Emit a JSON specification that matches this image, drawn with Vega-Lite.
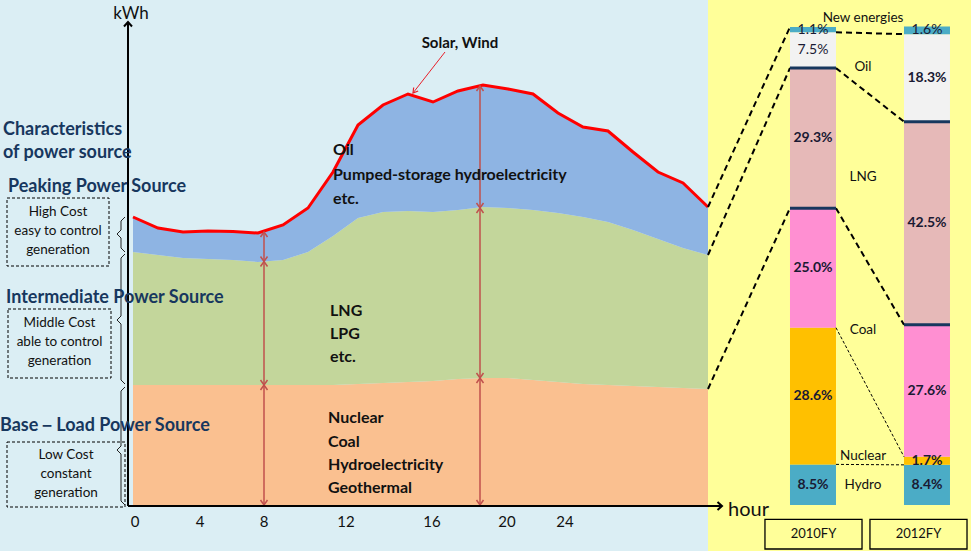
{
  "$schema": "https://vega.github.io/schema/vega-lite/v6.json",
  "background": "#FFFF99",
  "padding": 0,
  "spacing": 0,
  "bounds": "flush",
  "config": {
    "view": {"stroke": null},
    "axis": {"disable": true},
    "legend": {"disable": true},
    "font": "Lato",
    "text": {"font": "Lato"}
  },
  "datasets": {
    "load": [
      {"hour": 0, "peak": 57.8, "mid": 50.8, "base": 24.2},
      {"hour": 1, "peak": 55.6, "mid": 50.2, "base": 24.2},
      {"hour": 2, "peak": 54.8, "mid": 49.6, "base": 24.2},
      {"hour": 3, "peak": 55.0, "mid": 49.4, "base": 24.2},
      {"hour": 4, "peak": 54.9, "mid": 49.2, "base": 24.2},
      {"hour": 5, "peak": 54.6, "mid": 48.8, "base": 24.2},
      {"hour": 6, "peak": 56.2, "mid": 49.2, "base": 24.2},
      {"hour": 7, "peak": 59.6, "mid": 50.8, "base": 24.2},
      {"hour": 8, "peak": 66.8, "mid": 54.0, "base": 24.2},
      {"hour": 9, "peak": 76.2, "mid": 57.6, "base": 24.4},
      {"hour": 10, "peak": 80.2, "mid": 58.8, "base": 24.6},
      {"hour": 11, "peak": 82.4, "mid": 59.0, "base": 24.8},
      {"hour": 12, "peak": 80.8, "mid": 58.8, "base": 25.0},
      {"hour": 13, "peak": 83.0, "mid": 59.2, "base": 25.4},
      {"hour": 14, "peak": 84.2, "mid": 59.8, "base": 25.6},
      {"hour": 15, "peak": 83.4, "mid": 59.6, "base": 25.6},
      {"hour": 16, "peak": 82.4, "mid": 59.2, "base": 25.2},
      {"hour": 17, "peak": 78.6, "mid": 58.6, "base": 24.8},
      {"hour": 18, "peak": 75.8, "mid": 57.8, "base": 24.4},
      {"hour": 19, "peak": 75.0, "mid": 56.8, "base": 24.2},
      {"hour": 20, "peak": 70.8, "mid": 55.2, "base": 24.0},
      {"hour": 21, "peak": 66.8, "mid": 53.4, "base": 23.8},
      {"hour": 22, "peak": 64.6, "mid": 51.6, "base": 23.6},
      {"hour": 23, "peak": 59.8, "mid": 50.2, "base": 23.4}
    ],
    "mix": [
      {"year": "2010FY", "source": "Hydro", "k": 1, "pct": 8.5},
      {"year": "2010FY", "source": "Nuclear", "k": 2, "pct": 28.6},
      {"year": "2010FY", "source": "Coal", "k": 3, "pct": 25.0},
      {"year": "2010FY", "source": "LNG", "k": 4, "pct": 29.3},
      {"year": "2010FY", "source": "Oil", "k": 5, "pct": 7.5},
      {"year": "2010FY", "source": "New energies", "k": 6, "pct": 1.1},
      {"year": "2012FY", "source": "Hydro", "k": 1, "pct": 8.4},
      {"year": "2012FY", "source": "Nuclear", "k": 2, "pct": 1.7},
      {"year": "2012FY", "source": "Coal", "k": 3, "pct": 27.6},
      {"year": "2012FY", "source": "LNG", "k": 4, "pct": 42.5},
      {"year": "2012FY", "source": "Oil", "k": 5, "pct": 18.3},
      {"year": "2012FY", "source": "New energies", "k": 6, "pct": 1.6}
    ]
  },
  "hconcat": [
    {
      "width": 708,
      "height": 551,
      "view": {"fill": "#DBEEF4", "stroke": null},
      "layer": [
        {
          "data": {"name": "load"},
          "mark": {"type": "area", "color": "#FAC090", "opacity": 1},
          "encoding": {
            "x": {"field": "hour", "type": "quantitative", "scale": {"domain": [-5.32, 23], "nice": false, "zero": false}},
            "y": {"field": "base", "type": "quantitative", "scale": {"domain": [-9, 101.2], "nice": false, "zero": false}},
            "y2": {"datum": 0}
          }
        },
        {
          "data": {"name": "load"},
          "mark": {"type": "area", "color": "#C3D69B", "opacity": 1},
          "encoding": {
            "x": {"field": "hour", "type": "quantitative"},
            "y": {"field": "mid", "type": "quantitative"},
            "y2": {"field": "base"}
          }
        },
        {
          "data": {"name": "load"},
          "mark": {"type": "area", "color": "#8EB4E3", "opacity": 1},
          "encoding": {
            "x": {"field": "hour", "type": "quantitative"},
            "y": {"field": "peak", "type": "quantitative"},
            "y2": {"field": "mid"}
          }
        },
        {
          "data": {"name": "load"},
          "mark": {"type": "line", "color": "#FF0000", "strokeWidth": 3},
          "encoding": {
            "x": {"field": "hour", "type": "quantitative"},
            "y": {"field": "peak", "type": "quantitative"}
          }
        },
        {
          "data": {"values": [
            {"h1": -5.04, "h2": -0.96, "v1": 61.6, "v2": 48.0},
            {"h1": -5.0, "h2": -0.88, "v1": 39.4, "v2": 25.6},
            {"h1": -5.04, "h2": -0.32, "v1": 12.8, "v2": -0.2}
          ]},
          "mark": {"type": "rect", "fillOpacity": 0, "stroke": "#000000", "strokeWidth": 1, "strokeDash": [3, 2]},
          "encoding": {
            "x": {"field": "h1", "type": "quantitative"},
            "x2": {"field": "h2"},
            "y": {"field": "v1", "type": "quantitative"},
            "y2": {"field": "v2"}
          }
        },
        {
          "data": {"values": [
            {"b": "peak", "i": 1, "hour": -0.32, "v": 57.8},
            {"b": "peak", "i": 2, "hour": -0.48, "v": 57.0},
            {"b": "peak", "i": 3, "hour": -0.48, "v": 55.2},
            {"b": "peak", "i": 4, "hour": -0.64, "v": 54.4},
            {"b": "peak", "i": 5, "hour": -0.48, "v": 53.6},
            {"b": "peak", "i": 6, "hour": -0.48, "v": 51.6},
            {"b": "peak", "i": 7, "hour": -0.32, "v": 50.8},
            {"b": "mid", "i": 1, "hour": -0.32, "v": 50.4},
            {"b": "mid", "i": 2, "hour": -0.48, "v": 49.6},
            {"b": "mid", "i": 3, "hour": -0.48, "v": 38.0},
            {"b": "mid", "i": 4, "hour": -0.64, "v": 37.2},
            {"b": "mid", "i": 5, "hour": -0.48, "v": 36.4},
            {"b": "mid", "i": 6, "hour": -0.48, "v": 25.2},
            {"b": "mid", "i": 7, "hour": -0.32, "v": 24.4},
            {"b": "base", "i": 1, "hour": -0.32, "v": 23.8},
            {"b": "base", "i": 2, "hour": -0.48, "v": 23.0},
            {"b": "base", "i": 3, "hour": -0.48, "v": 12.0},
            {"b": "base", "i": 4, "hour": -0.64, "v": 11.2},
            {"b": "base", "i": 5, "hour": -0.48, "v": 10.4},
            {"b": "base", "i": 6, "hour": -0.48, "v": 1.0},
            {"b": "base", "i": 7, "hour": -0.32, "v": 0.2}
          ]},
          "mark": {"type": "line", "color": "#222222", "strokeWidth": 1},
          "encoding": {
            "x": {"field": "hour", "type": "quantitative"},
            "y": {"field": "v", "type": "quantitative"},
            "detail": {"field": "b"},
            "order": {"field": "i"}
          }
        },
        {
          "data": {"values": [
            {"hour": 5.24, "top": 54.8, "bottom": 48.9},
            {"hour": 5.24, "top": 48.9, "bottom": 24.2},
            {"hour": 5.24, "top": 24.2, "bottom": 0.2},
            {"hour": 13.88, "top": 84.0, "bottom": 59.6},
            {"hour": 13.88, "top": 59.6, "bottom": 25.6},
            {"hour": 13.88, "top": 25.6, "bottom": 0.2}
          ]},
          "layer": [
            {
              "mark": {"type": "rule", "color": "#C0504D", "strokeWidth": 1.5},
              "encoding": {
                "x": {"field": "hour", "type": "quantitative"},
                "y": {"field": "top", "type": "quantitative"},
                "y2": {"field": "bottom"}
              }
            },
            {
              "mark": {"type": "point", "shape": "M-0.7,1L0,0L0.7,1", "filled": false, "color": "#C0504D", "strokeWidth": 1.5, "size": 100, "opacity": 1},
              "encoding": {
                "x": {"field": "hour", "type": "quantitative"},
                "y": {"field": "top", "type": "quantitative"}
              }
            },
            {
              "mark": {"type": "point", "shape": "M-0.7,-1L0,0L0.7,-1", "filled": false, "color": "#C0504D", "strokeWidth": 1.5, "size": 100, "opacity": 1},
              "encoding": {
                "x": {"field": "hour", "type": "quantitative"},
                "y": {"field": "bottom", "type": "quantitative"}
              }
            }
          ]
        },
        {
          "data": {"values": [
            {"h1": 23, "v1": 59.8, "h2": 26.28, "v2": 95.8},
            {"h1": 23, "v1": 50.2, "h2": 26.28, "v2": 87.6},
            {"h1": 23, "v1": 23.4, "h2": 26.28, "v2": 59.6}
          ]},
          "mark": {"type": "rule", "color": "#000000", "strokeWidth": 2, "strokeDash": [6, 4]},
          "encoding": {
            "x": {"field": "h1", "type": "quantitative"},
            "x2": {"field": "h2"},
            "y": {"field": "v1", "type": "quantitative"},
            "y2": {"field": "v2"}
          }
        },
        {
          "data": {"values": [
            {"h1": -0.2, "v1": 0, "h2": -0.2, "v2": 96.8},
            {"h1": -0.2, "v1": 0, "h2": 23.56, "v2": 0}
          ]},
          "mark": {"type": "rule", "color": "#000000", "strokeWidth": 2},
          "encoding": {
            "x": {"field": "h1", "type": "quantitative"},
            "x2": {"field": "h2"},
            "y": {"field": "v1", "type": "quantitative"},
            "y2": {"field": "v2"}
          }
        },
        {
          "data": {"values": [{"hour": -0.2, "v": 96.8}]},
          "mark": {"type": "point", "shape": "M-0.8,0.9L0,0L0.8,0.9", "filled": false, "color": "#000000", "strokeWidth": 2, "size": 100, "opacity": 1},
          "encoding": {
            "x": {"field": "hour", "type": "quantitative"},
            "y": {"field": "v", "type": "quantitative"}
          }
        },
        {
          "data": {"values": [{"hour": 23.56, "v": 0}]},
          "mark": {"type": "point", "shape": "M-0.9,-0.8L0,0L-0.9,0.8", "filled": false, "color": "#000000", "strokeWidth": 2, "size": 100, "opacity": 1},
          "encoding": {
            "x": {"field": "hour", "type": "quantitative"},
            "y": {"field": "v", "type": "quantitative"}
          }
        },
        {
          "data": {"values": [{"h1": 12.48, "v1": 90.8, "h2": 11.2, "v2": 82.6}]},
          "mark": {"type": "rule", "color": "#E8202A", "strokeWidth": 1},
          "encoding": {
            "x": {"field": "h1", "type": "quantitative"},
            "x2": {"field": "h2"},
            "y": {"field": "v1", "type": "quantitative"},
            "y2": {"field": "v2"}
          }
        },
        {
          "data": {"values": [{"hour": 11.2, "v": 82.6}]},
          "mark": {"type": "point", "shape": "M-0.6,1L0,0L0.6,1", "filled": false, "color": "#E8202A", "strokeWidth": 1.2, "size": 90, "angle": 218, "opacity": 1},
          "encoding": {
            "x": {"field": "hour", "type": "quantitative"},
            "y": {"field": "v", "type": "quantitative"}
          }
        },
        {
          "data": {"values": [
            {"t": "Characteristics", "hour": -5.2, "v": 75.2},
            {"t": "of power source", "hour": -5.2, "v": 70.6},
            {"t": "Peaking Power Source", "hour": -5.0, "v": 63.8},
            {"t": "Intermediate Power Source", "hour": -5.08, "v": 41.6},
            {"t": "Base－Load Power Source", "hour": -5.32, "v": 16.0}
          ]},
          "mark": {"type": "text", "align": "left", "baseline": "middle", "fontWeight": "bold", "fontSize": 18, "color": "#17375E"},
          "encoding": {
            "x": {"field": "hour", "type": "quantitative"},
            "y": {"field": "v", "type": "quantitative"},
            "text": {"field": "t"}
          }
        },
        {
          "data": {"values": [
            {"t": "High Cost", "hour": -3.0, "v": 58.8},
            {"t": "easy to control", "hour": -3.0, "v": 55.0},
            {"t": "generation", "hour": -3.0, "v": 51.2},
            {"t": "Middle Cost", "hour": -2.94, "v": 36.6},
            {"t": "able to control", "hour": -2.94, "v": 32.8},
            {"t": "generation", "hour": -2.94, "v": 29.0},
            {"t": "Low Cost", "hour": -2.68, "v": 10.2},
            {"t": "constant", "hour": -2.68, "v": 6.4},
            {"t": "generation", "hour": -2.68, "v": 2.6}
          ]},
          "mark": {"type": "text", "align": "center", "baseline": "middle", "fontSize": 13.5, "color": "#111111"},
          "encoding": {
            "x": {"field": "hour", "type": "quantitative"},
            "y": {"field": "v", "type": "quantitative"},
            "text": {"field": "t"}
          }
        },
        {
          "data": {"values": [
            {"t": "Oil", "hour": 8.0, "v": 71.2},
            {"t": "Pumped-storage hydroelectricity", "hour": 8.0, "v": 66.2},
            {"t": "etc.", "hour": 8.0, "v": 61.4},
            {"t": "LNG", "hour": 7.88, "v": 39.0},
            {"t": "LPG", "hour": 7.88, "v": 34.4},
            {"t": "etc.", "hour": 7.88, "v": 29.8},
            {"t": "Nuclear", "hour": 7.8, "v": 17.6},
            {"t": "Coal", "hour": 7.8, "v": 12.8},
            {"t": "Hydroelectricity", "hour": 7.8, "v": 8.2},
            {"t": "Geothermal", "hour": 7.8, "v": 3.6}
          ]},
          "mark": {"type": "text", "align": "left", "baseline": "middle", "fontSize": 16, "fontWeight": "bold", "color": "#111111"},
          "encoding": {
            "x": {"field": "hour", "type": "quantitative"},
            "y": {"field": "v", "type": "quantitative"},
            "text": {"field": "t"}
          }
        },
        {
          "data": {"values": [
            {"t": "0", "hour": 0.08},
            {"t": "4", "hour": 2.68},
            {"t": "8", "hour": 5.24},
            {"t": "12", "hour": 8.52},
            {"t": "16", "hour": 11.96},
            {"t": "20", "hour": 14.96},
            {"t": "24", "hour": 17.28}
          ]},
          "mark": {"type": "text", "align": "center", "baseline": "middle", "fontSize": 15, "color": "#111111"},
          "encoding": {
            "x": {"field": "hour", "type": "quantitative"},
            "y": {"datum": -3.2, "type": "quantitative"},
            "text": {"field": "t"}
          }
        },
        {
          "data": {"values": [{"t": "kWh", "hour": -0.08, "v": 98.4}]},
          "mark": {"type": "text", "align": "center", "baseline": "middle", "fontSize": 17, "color": "#111111"},
          "encoding": {
            "x": {"field": "hour", "type": "quantitative"},
            "y": {"field": "v", "type": "quantitative"},
            "text": {"field": "t"}
          }
        },
        {
          "data": {"values": [{"t": "Solar, Wind", "hour": 13.08, "v": 92.6}]},
          "mark": {"type": "text", "align": "center", "baseline": "middle", "fontSize": 15, "fontWeight": "bold", "color": "#111111"},
          "encoding": {
            "x": {"field": "hour", "type": "quantitative"},
            "y": {"field": "v", "type": "quantitative"},
            "text": {"field": "t"}
          }
        },
        {
          "data": {"values": [{"t": "hour", "hour": 23.8, "v": -0.8}]},
          "mark": {"type": "text", "align": "left", "baseline": "middle", "fontSize": 20, "color": "#111111"},
          "encoding": {
            "x": {"field": "hour", "type": "quantitative"},
            "y": {"field": "v", "type": "quantitative"},
            "text": {"field": "t"}
          }
        }
      ]
    },
    {
      "width": 263,
      "height": 551,
      "layer": [
        {
          "data": {"name": "mix"},
          "transform": [
            {"stack": "pct", "groupby": ["year"], "sort": [{"field": "k", "order": "ascending"}], "as": ["p0", "p1"]}
          ],
          "mark": {"type": "bar", "opacity": 1},
          "encoding": {
            "x": {"field": "year", "type": "nominal", "scale": {"type": "band", "domain": ["2010FY", "2012FY"], "paddingInner": 0.5965, "paddingOuter": 0.4518, "align": 0.796}},
            "y": {"field": "p0", "type": "quantitative", "scale": {"domain": [-9.62, 105.65], "nice": false, "zero": false}},
            "y2": {"field": "p1"},
            "color": {"field": "source", "type": "nominal", "legend": null, "scale": {"domain": ["Hydro", "Nuclear", "Coal", "LNG", "Oil", "New energies"], "range": ["#4BACC6", "#FFC000", "#FF8FD2", "#E6B9B8", "#F2F2F2", "#4BACC6"]}}
          }
        },
        {
          "data": {"name": "mix"},
          "transform": [
            {"stack": "pct", "groupby": ["year"], "sort": [{"field": "k", "order": "ascending"}], "as": ["p0", "p1"]},
            {"filter": "datum.source !== 'New energies'"},
            {"pivot": "year", "value": "p1", "groupby": ["source"]}
          ],
          "mark": {"type": "rule", "color": "#000000"},
          "encoding": {
            "x": {"datum": "2010FY", "type": "nominal", "bandPosition": 1},
            "x2": {"datum": "2012FY", "bandPosition": 0},
            "y": {"field": "2010FY", "type": "quantitative"},
            "y2": {"field": "2012FY"},
            "strokeWidth": {"condition": {"test": "datum.source === 'Hydro' || datum.source === 'Nuclear'", "value": 1}, "value": 2},
            "strokeDash": {"condition": {"test": "datum.source === 'Hydro' || datum.source === 'Nuclear'", "value": [3, 2]}, "value": [6, 4]}
          }
        },
        {
          "data": {"name": "mix"},
          "transform": [
            {"stack": "pct", "groupby": ["year"], "sort": [{"field": "k", "order": "ascending"}], "as": ["p0", "p1"]},
            {"filter": "datum.source === 'LNG' || datum.source === 'Coal'"}
          ],
          "mark": {"type": "tick", "color": "#17375E", "thickness": 3, "size": 46, "opacity": 1},
          "encoding": {
            "x": {"field": "year", "type": "nominal"},
            "y": {"field": "p1", "type": "quantitative"}
          }
        },
        {
          "data": {"name": "mix"},
          "transform": [
            {"stack": "pct", "groupby": ["year"], "sort": [{"field": "k", "order": "ascending"}], "as": ["p0", "p1"]},
            {"calculate": "(datum.p0 + datum.p1) / 2", "as": "pm"},
            {"calculate": "format(datum.pct, '.1f') + '%'", "as": "lbl"}
          ],
          "mark": {"type": "text", "align": "center", "baseline": "middle", "fontSize": 14, "color": "#1A1A33", "fontWeight": {"expr": "datum.source === 'New energies' || (datum.source === 'Oil' && datum.year === '2010FY') ? 'normal' : 'bold'"}},
          "encoding": {
            "x": {"field": "year", "type": "nominal"},
            "y": {"field": "pm", "type": "quantitative"},
            "text": {"field": "lbl"}
          }
        },
        {
          "data": {"values": [
            {"t": "New energies", "v": 101.9},
            {"t": "Oil", "v": 91.6},
            {"t": "LNG", "v": 68.6},
            {"t": "Coal", "v": 36.6},
            {"t": "Nuclear", "v": 10.3},
            {"t": "Hydro", "v": 4.2}
          ]},
          "mark": {"type": "text", "align": "center", "baseline": "middle", "fontSize": 13.5, "color": "#111111", "dx": 27},
          "encoding": {
            "x": {"datum": "2010FY", "type": "nominal", "bandPosition": 1},
            "y": {"field": "v", "type": "quantitative"},
            "text": {"field": "t"}
          }
        },
        {
          "data": {"values": [{"year": "2010FY"}, {"year": "2012FY"}]},
          "mark": {"type": "bar", "width": {"band": 2.11}, "fillOpacity": 0, "stroke": "#000000", "strokeWidth": 1.3, "xOffset": {"expr": "datum.year === '2012FY' ? -8.5 : 0.5"}},
          "encoding": {
            "x": {"field": "year", "type": "nominal"},
            "y": {"datum": -3.0, "type": "quantitative"},
            "y2": {"datum": -9.2}
          }
        },
        {
          "data": {"values": [{"year": "2010FY"}, {"year": "2012FY"}]},
          "mark": {"type": "text", "align": "center", "baseline": "middle", "fontSize": 13, "color": "#111111", "dx": {"expr": "datum.year === '2012FY' ? -8.5 : 0.5"}},
          "encoding": {
            "x": {"field": "year", "type": "nominal"},
            "y": {"datum": -6.1, "type": "quantitative"},
            "text": {"field": "year"}
          }
        }
      ]
    }
  ]
}
